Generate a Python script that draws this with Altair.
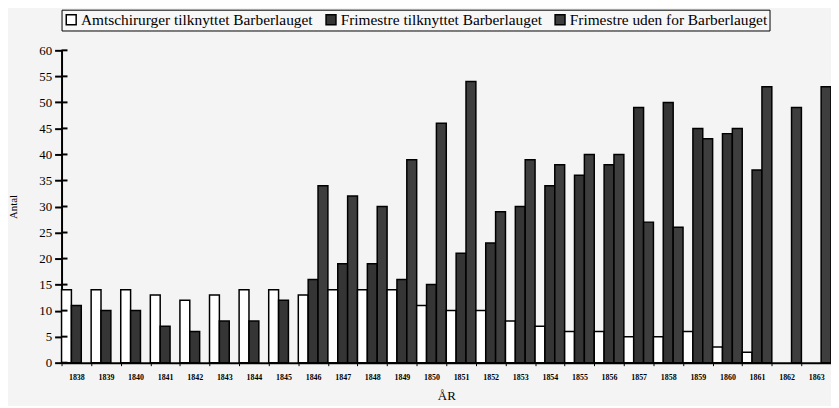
import altair as alt
import pandas as pd

years = list(range(1838, 1864))
series_names = [
    "Amtschirurger tilknyttet Barberlauget",
    "Frimestre tilknyttet Barberlauget",
    "Frimestre uden for Barberlauget",
]
amtschirurger = [14, 14, 14, 13, 12, 13, 14, 14, 13, 14, 14, 14, 11, 10, 10, 8, 7, 6, 6, 5, 5, 6, 3, 2, 0, 0]
frimestre_tilk = [11, 10, 10, 7, 6, 8, 8, 12, 16, 19, 19, 16, 15, 21, 23, 30, 34, 36, 38, 49, 50, 45, 44, 37, 0, 0]
frimestre_uden = [0, 0, 0, 0, 0, 0, 0, 0, 34, 32, 30, 39, 46, 54, 29, 39, 38, 40, 40, 27, 26, 43, 45, 53, 49, 53]
y_ticks = list(range(0, 61, 5))

rows = []
for i, yr in enumerate(years):
    for name, vals in zip(series_names, [amtschirurger, frimestre_tilk, frimestre_uden]):
        rows.append({"year": str(yr), "series": name, "value": vals[i]})
df = pd.DataFrame(rows)
df_bars = df[df["value"] > 0]

serif = "Liberation Serif"
y_scale = alt.Scale(domain=[0, 60], nice=False)
y_axis = alt.Axis(
    title="Antal", values=y_ticks, grid=False, tickSize=7, tickWidth=2, tickColor="black",
    domainColor="black", domainWidth=2, labelFont=serif, labelFontSize=13,
    labelColor="black", labelPadding=3, labelOverlap=False, labelFlush=False,
    titleFont=serif, titleFontSize=11,
    titleFontWeight="normal", titleColor="black", titlePadding=20,
)

bars = alt.Chart(df_bars).mark_bar(stroke="black", strokeWidth=1.5).encode(
    x=alt.X(
        "year:N",
        scale=alt.Scale(domain=[str(y) for y in years], paddingInner=0, paddingOuter=0),
        axis=alt.Axis(
            title="ÅR", labelAngle=0, labelFont=serif, labelFontSize=8, labelFontWeight="bold",
            labelColor="black", tickSize=3, tickColor="black", tickWidth=1, tickBand="extent",
            labelPadding=8, domainColor="black", domainWidth=2, titleFont=serif,
            titleFontSize=13, titleFontWeight="normal", titleColor="black", titlePadding=8,
        ),
    ),
    xOffset=alt.XOffset("series:N", sort=series_names,
                        scale=alt.Scale(domain=series_names, paddingInner=0, paddingOuter=0)),
    y=alt.Y("value:Q", scale=y_scale, axis=y_axis),
    color=alt.Color(
        "series:N",
        sort=series_names,
        scale=alt.Scale(domain=series_names, range=["white", "#353535", "#3e3e3e"]),
        legend=alt.Legend(
            title=None, orient="none", legendX=0, legendY=-41, direction="horizontal",
            symbolType="square", symbolSize=100, symbolStrokeColor="black",
            symbolStrokeWidth=1.5, labelFont=serif, labelFontSize=15.5, labelColor="black",
            labelLimit=400, columnPadding=9, labelOffset=2, padding=2,
            strokeColor="black", fillColor="#f7f7f7",
        ),
    ),
)

inner_ticks = alt.Chart(pd.DataFrame({"value": y_ticks})).mark_rule(color="black", strokeWidth=2).encode(
    x=alt.value(0), x2=alt.value(6), y=alt.Y("value:Q", scale=y_scale, axis=y_axis)
)

chart = alt.layer(bars, inner_ticks).properties(
    width=776,
    height=315,
    autosize=alt.AutoSizeParams(type="none"),
    padding={"left": 54, "top": 41, "right": 0, "bottom": 42},
    background="#f4f4f4",
).configure_view(stroke=None)

chart.save("out.html", embed_options={"renderer": "svg", "actions": False})
